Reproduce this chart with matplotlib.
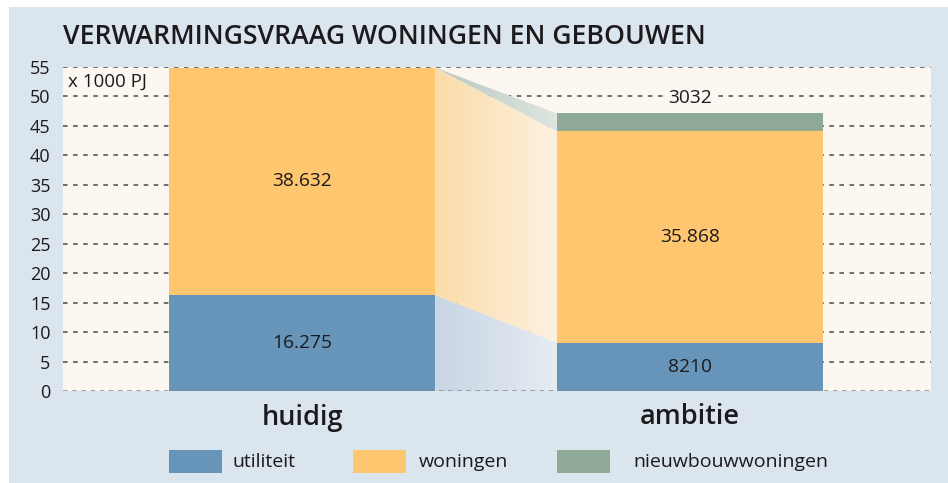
import numpy as np
import matplotlib
matplotlib.use("Agg")
import matplotlib.pyplot as plt
from matplotlib.patches import Rectangle, Polygon
from matplotlib.colors import LinearSegmentedColormap

plt.rcParams['font.family'] = ['Open Sans', 'DejaVu Sans']

# --- data (x 1000 PJ) ---
scenarios = ["huidig", "ambitie"]
utiliteit = [16.275, 8.210]
woningen = [38.632, 35.868]
nieuwbouw = [0.0, 3.032]
label_utiliteit = ["16.275", "8210"]
label_woningen = ["38.632", "35.868"]
label_nieuwbouw = "3032"
yticks = list(range(0, 56, 5))
series_names = ["utiliteit", "woningen", "nieuwbouwwoningen"]

C_UTIL = "#6795b9"
C_WON = "#fec66e"
C_NIEUW = "#8fa997"
BG_OUTER = "#dbe5ed"
BG_PLOT = "#fdf7f1"
TXT = "#1c1a1c"

W, H = 948, 483
fig = plt.figure(figsize=(W / 100, H / 100), dpi=100)
fig.patch.set_facecolor("white")
fig.add_artist(Rectangle((9 / W, 0), 1 - 9 / W, 1 - 7 / H, transform=fig.transFigure,
                         facecolor=BG_OUTER, edgecolor="none", zorder=-10))

ax = fig.add_axes([63 / W, 1 - 391 / H, 868 / W, 324 / H])
ax.set_facecolor(BG_PLOT)
for s in ax.spines.values():
    s.set_visible(False)

x = np.arange(len(scenarios))
width = 0.686
xlim = (-0.616, 1.621)

# dashed grid behind everything
for t in yticks[1:]:
    ax.axhline(t, color="#4a4a4a", lw=1.1, linestyle=(0, (3.0, 3.6)), zorder=0.5)

# stacked bars
ax.bar(x, utiliteit, width=width, color=C_UTIL, zorder=3)
ax.bar(x, woningen, width=width, bottom=utiliteit, color=C_WON, zorder=3)
bottom_n = [u + w for u, w in zip(utiliteit, woningen)]
ax.bar(x, nieuwbouw, width=width, bottom=bottom_n, color=C_NIEUW, zorder=3)

# gradient connectors between the two stacks
xl = x[0] + width / 2
xr = x[1] - width / 2
u0, u1 = utiliteit
t0, t1 = bottom_n
n1 = t1 + nieuwbouw[1]
top0 = t0 + nieuwbouw[0]


def gradient_band(verts, c_left, c_right):
    cmap = LinearSegmentedColormap.from_list("g", [c_left, c_right])
    grad = np.linspace(0, 1, 256).reshape(1, -1)
    im = ax.imshow(grad, extent=[xl, xr, 0, 55], aspect="auto", cmap=cmap,
                   origin="lower", zorder=2, interpolation="bilinear")
    poly = Polygon(verts, closed=True, transform=ax.transData, facecolor="none",
                   edgecolor="none")
    ax.add_patch(poly)
    im.set_clip_path(poly)


gradient_band([(xl, 0), (xl, u0), (xr, u1), (xr, 0)], "#c8d5e4", "#e6ecf3")
gradient_band([(xl, u0), (xl, top0), (xr, t1), (xr, u1)], "#fbdca9", "#fdf1e0")
gradient_band([(xl, top0), (xr, n1), (xr, t1)], "#b9c9c1", "#dfe5e0")

# zero line over the bars
ax.axhline(0, color="#8a8a8a", lw=1.1, linestyle=(0, (3.0, 3.0)), zorder=4)

ax.set_xlim(*xlim)
ax.set_ylim(0, 55)

# value labels
for i in range(len(scenarios)):
    ax.text(x[i], utiliteit[i] / 2, label_utiliteit[i], ha="center", va="center",
            fontsize=13.8, color=TXT, zorder=5)
    ax.text(x[i], utiliteit[i] + woningen[i] / 2, label_woningen[i], ha="center",
            va="center", fontsize=13.8, color=TXT, zorder=5)
ax.text(x[1], n1 + 2.6, label_nieuwbouw, ha="center", va="center", fontsize=13.8,
        color=TXT, zorder=5,
        bbox=dict(facecolor=BG_PLOT, edgecolor="none", pad=2))

ax.text(0.006, 0.955, "x 1000 PJ", transform=ax.transAxes, ha="left", va="center",
        fontsize=13.5, color=TXT, zorder=5)

# axes ticks
ax.set_yticks(yticks)
ax.set_yticklabels([str(t) for t in yticks])
ax.set_xticks(x)
ax.set_xticklabels(scenarios)
ax.tick_params(axis="y", length=0, pad=9, labelsize=13, labelcolor=TXT)
ax.tick_params(axis="x", length=0, pad=9, labelsize=19.5, labelcolor=TXT)
for lbl in ax.get_xticklabels():
    lbl.set_fontweight("semibold")

# title
fig.text(63 / W, 1 - 44 / H, "VERWARMINGSVRAAG WONINGEN EN GEBOUWEN", ha="left",
         va="baseline", fontsize=19.2, fontweight="semibold", color=TXT)

# legend
leg_items = [(169, 232, C_UTIL), (353, 419, C_WON), (557, 633, C_NIEUW)]
for (px, tx, col), name in zip(leg_items, series_names):
    fig.add_artist(Rectangle((px / W, 1 - 473 / H), 53 / W, 23 / H,
                             transform=fig.transFigure, facecolor=col, edgecolor="none"))
    fig.text(tx / W, 1 - 462 / H, name, ha="left", va="center", fontsize=14, color=TXT)

fig.savefig("out.png", dpi=100, facecolor=fig.get_facecolor())
